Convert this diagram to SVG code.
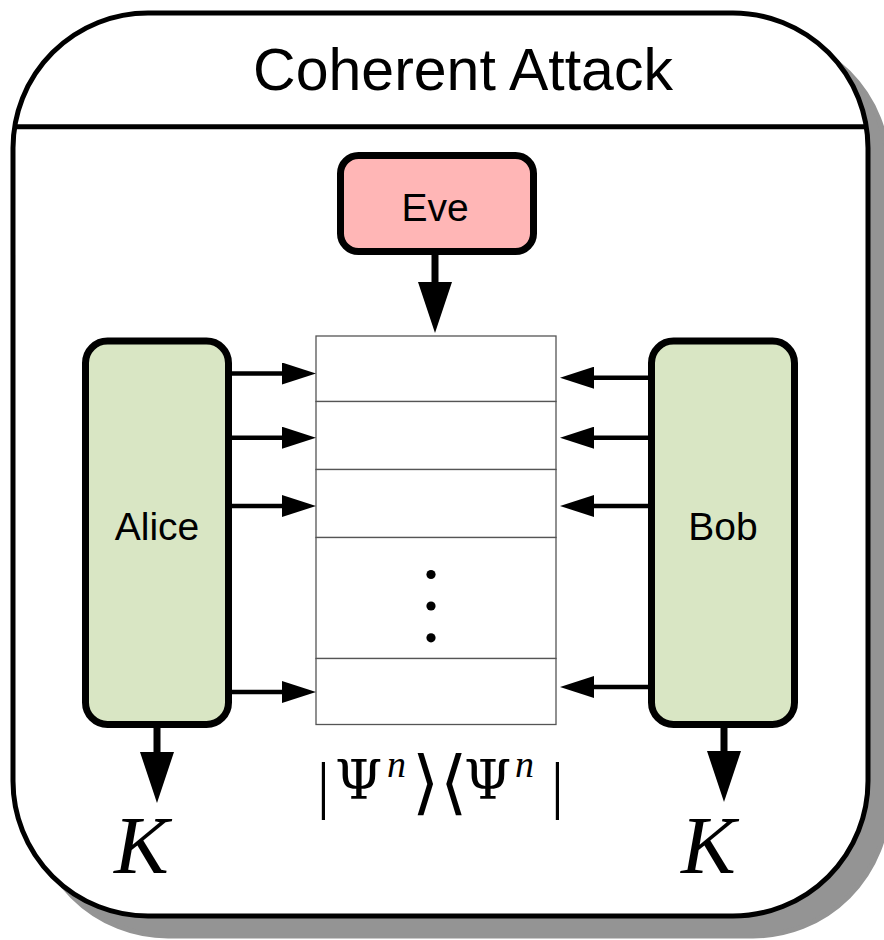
<svg xmlns="http://www.w3.org/2000/svg" width="884" height="940" viewBox="0 0 884 940">
  <style>
    .frame { fill: #ffffff; stroke: #000000; stroke-width: 5; }
    .shadow { fill: #949494; stroke: #949494; stroke-width: 5; }
    .node { stroke: #000000; stroke-width: 7; }
    .eve { fill: #ffb6b6; }
    .party { fill: #d9e6c4; }
    .label { font-family: "Liberation Sans", Arial, sans-serif; font-size: 39px; fill: #000000; text-anchor: middle; }
    .title { font-family: "Liberation Sans", Arial, sans-serif; font-size: 59px; fill: #000000; text-anchor: middle; }
    .math { font-family: "Liberation Serif", "DejaVu Serif", serif; fill: #000000; }
    .bar { font-size: 64px; }
    .greek { font-family: "DejaVu Serif", serif; font-size: 54px; }
    .delim { font-family: "DejaVu Serif", serif; font-size: 70px; }
    .sup { font-size: 38px; font-style: italic; }
    .cell { fill: #ffffff; stroke: #555555; stroke-width: 1.3; }
    .wire { stroke: #000000; stroke-width: 4.5; fill: none; marker-end: url(#head-s); }
    .feed { stroke: #000000; stroke-width: 7; fill: none; marker-end: url(#head-l); }
  </style>
  <defs>
    <marker id="head-s" markerUnits="userSpaceOnUse" markerWidth="34" markerHeight="22" refX="14" refY="11" orient="auto">
      <path d="M0,0 L34,11 L0,22 Z" fill="#000000"/>
    </marker>
    <marker id="head-l" markerUnits="userSpaceOnUse" markerWidth="51" markerHeight="34" refX="11" refY="17" orient="auto">
      <path d="M0,0 L51,17 L0,34 Z" fill="#000000"/>
    </marker>
  </defs>

  <!-- outer frame with drop shadow -->
  <g id="frame">
    <rect class="shadow" x="33" y="33" width="855" height="903" rx="135" ry="135"/>
    <rect class="frame" x="13" y="13" width="855" height="903" rx="135" ry="135"/>
    <line x1="13" y1="126.7" x2="868" y2="126.7" stroke="#000000" stroke-width="5"/>
    <text class="title" x="463" y="90">Coherent Attack</text>
  </g>

  <!-- shared state register -->
  <g id="register">
    <rect class="cell" x="316" y="336" width="240" height="65.5"/>
    <rect class="cell" x="316" y="401.5" width="240" height="68"/>
    <rect class="cell" x="316" y="469.5" width="240" height="68"/>
    <rect class="cell" x="316" y="537.5" width="240" height="121"/>
    <rect class="cell" x="316" y="658.5" width="240" height="66"/>
    <circle cx="431" cy="574.5" r="4.6" fill="#000000"/>
    <circle cx="431" cy="606" r="4.6" fill="#000000"/>
    <circle cx="431" cy="637.8" r="4.6" fill="#000000"/>
    <!-- density operator label -->
    <text class="math"><tspan class="bar" x="317" y="806">|</tspan><tspan class="greek" x="335" y="799">Ψ</tspan><tspan class="sup" x="387" y="777">n</tspan><tspan class="delim" x="412" y="806">⟩</tspan><tspan class="delim" x="440" y="806">⟨</tspan><tspan class="greek" x="464" y="799">Ψ</tspan><tspan class="sup" x="515" y="777">n</tspan><tspan class="bar" x="551" y="806">|</tspan></text>
  </g>

  <g id="eve">
    <rect class="node eve" x="340.5" y="155.5" width="193" height="96" rx="18" ry="18"/>
    <text class="label" x="435" y="221">Eve</text>
  </g>

  <g id="alice">
    <rect class="node party" x="85.5" y="341" width="143" height="383.5" rx="22" ry="22"/>
    <text class="label" x="157" y="540">Alice</text>
    <text class="math" x="114" y="873" font-size="82" font-style="italic">K</text>
  </g>

  <g id="bob">
    <rect class="node party" x="651.5" y="341" width="143" height="383.5" rx="22" ry="22"/>
    <text class="label" x="723" y="540">Bob</text>
    <text class="math" x="681" y="873" font-size="82" font-style="italic">K</text>
  </g>

  <g id="connectors">
    <line class="feed" x1="435" y1="255" x2="435" y2="293"/>
    <line class="wire" x1="228" y1="373.5" x2="296" y2="373.5"/>
    <line class="wire" x1="228" y1="437.7" x2="296" y2="437.7"/>
    <line class="wire" x1="228" y1="506" x2="296" y2="506"/>
    <line class="wire" x1="228" y1="692" x2="296" y2="692"/>
    <line class="wire" x1="652" y1="377.7" x2="580" y2="377.7"/>
    <line class="wire" x1="652" y1="437.7" x2="580" y2="437.7"/>
    <line class="wire" x1="652" y1="506" x2="580" y2="506"/>
    <line class="wire" x1="652" y1="687" x2="580" y2="687"/>
    <line class="feed" x1="157" y1="728" x2="157" y2="763"/>
    <line class="feed" x1="724" y1="728" x2="724" y2="762"/>
  </g>
</svg>
